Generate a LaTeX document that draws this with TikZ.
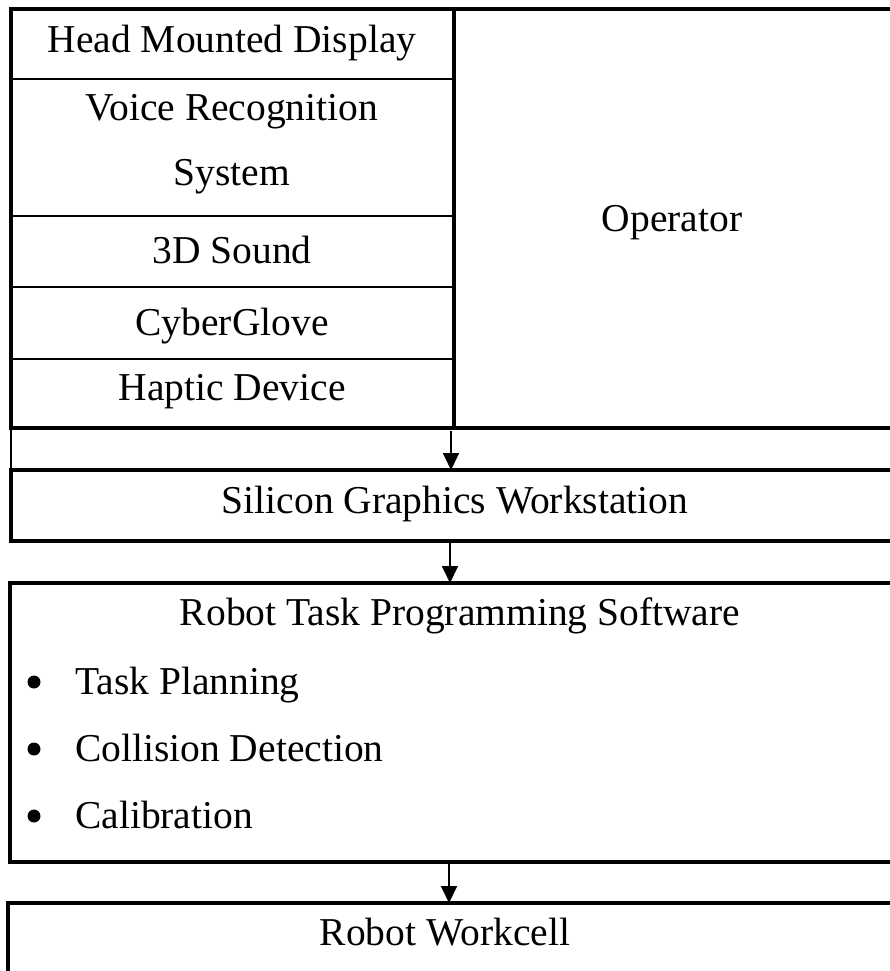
\documentclass[tikz,border=0pt]{standalone}
\usepackage{fontspec}
\setmainfont{Liberation Serif}
\usetikzlibrary{arrows.meta}
\begin{document}
\begin{tikzpicture}[x=1pt,y=-1pt,
  font=\fontsize{39.5}{46}\selectfont,
  heavy/.style={line width=3.4pt},
  light/.style={line width=1.6pt},
  flow/.style={line width=1.8pt,-{Triangle[length=17pt,width=16pt]}},
  txt/.style={inner sep=0pt,anchor=base},
  item/.style={inner sep=0pt,anchor=base west},
  dot/.style={circle,fill,inner sep=0pt,minimum size=13pt}]
\useasboundingbox (0,0) rectangle (889,971);

% interface devices and operator
\coordinate (fTL) at (11,9);
\coordinate (fBL) at (11,428);
\coordinate (fTR) at (900,9);
\coordinate (fBR) at (900,428);
\coordinate (dT) at (454,9);
\coordinate (dB) at (454,428);
\foreach \y/\n in {79/r1,216/r2,287/r3,359/r4}
  \draw[light] (11,\y) -- (454,\y);
\draw[heavy] (fBR) -- (fBL) -- (fTL) -- (fTR);
\draw[heavy] (dT) -- (dB);

\node[txt] (hmd) at (232,53) {Head Mounted Display};
\node[txt] (vr1) at (232,121) {Voice Recognition};
\node[txt] (vr2) at (232,185) {System};
\node[txt] (snd) at (232,263) {3D Sound};
\node[txt] (glv) at (232,335) {CyberGlove};
\node[txt] (hap) at (232,400) {Haptic Device};
\node[txt] (op) at (672,231) {Operator};

% link strip
\draw[light] (fBL) -- (11,470);

% workstation
\coordinate (sTL) at (11,470);
\coordinate (sBL) at (11,541);
\draw[heavy] (900,470) -- (sTL) -- (sBL) -- (900,541);
\node[txt] (sgw) at (455,513) {Silicon Graphics Workstation};

% programming software
\coordinate (pTL) at (10,583);
\coordinate (pBL) at (10,862);
\draw[heavy] (900,583) -- (pTL) -- (pBL) -- (900,862);
\node[txt] (rtp) at (460,625) {Robot Task Programming Software};
\foreach \y/\t/\n in {694/Task Planning/b1,761/Collision Detection/b2,828/Calibration/b3}{
  \node[dot] (\n dot) at (34,\y-12) {};
  \node[item] (\n) at (75,\y) {\t};
}

% workcell
\coordinate (wTL) at (8,903);
\draw[heavy] (900,903) -- (wTL) -- (8,980);
\node[txt] (rwc) at (445,945) {Robot Workcell};

% flow arrows
\coordinate (a1s) at (451,431);
\coordinate (a1e) at (451,470);
\coordinate (a2s) at (450,541);
\coordinate (a2e) at (450,583);
\coordinate (a3s) at (449,862);
\coordinate (a3e) at (449,903);
\draw[flow] (a1s) -- (a1e);
\draw[flow] (a2s) -- (a2e);
\draw[flow] (a3s) -- (a3e);
\end{tikzpicture}
\end{document}
